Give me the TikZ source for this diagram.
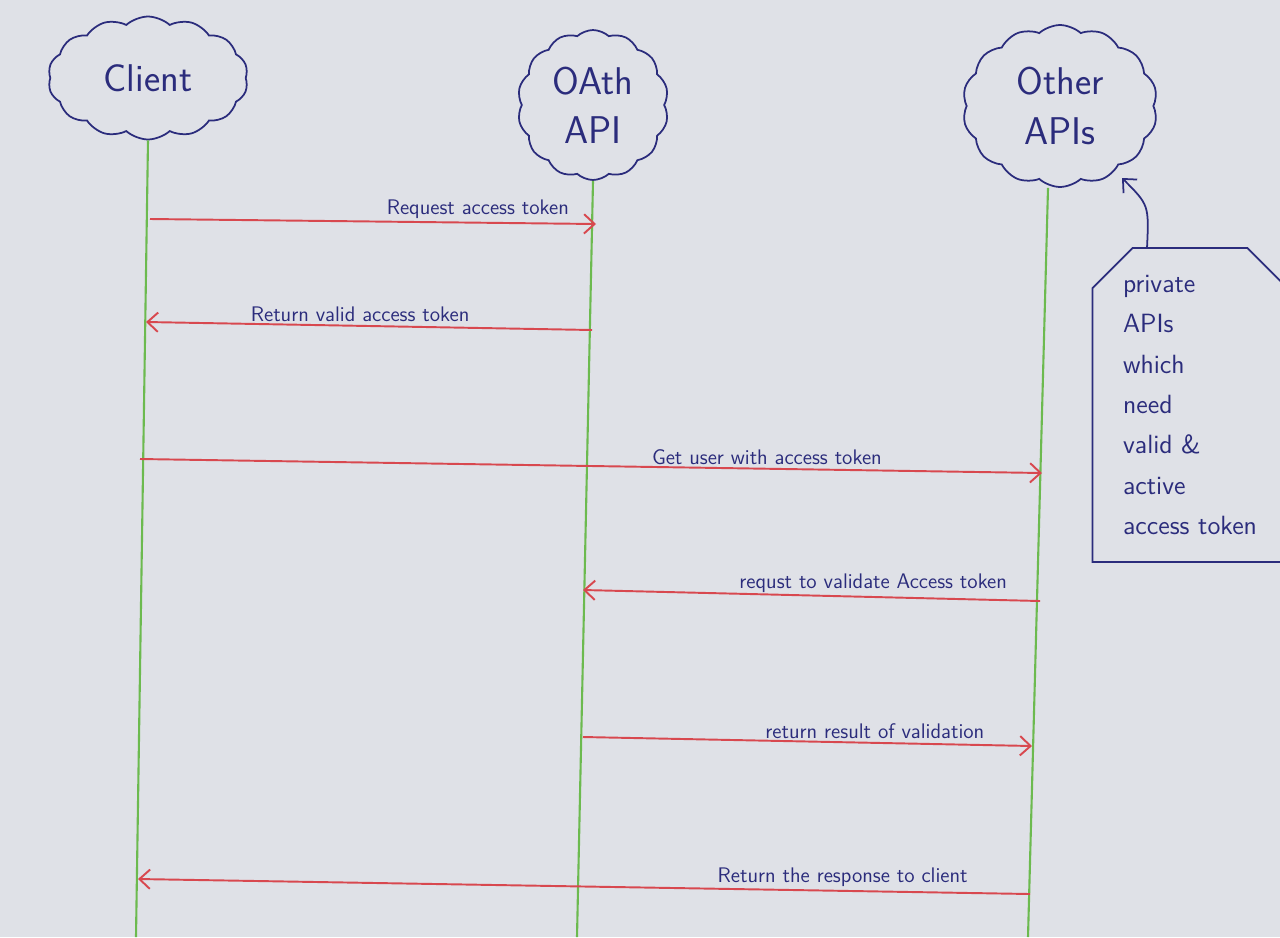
\documentclass[tikz,border=0pt]{standalone}
\usepackage{tikz}
\usetikzlibrary{arrows.meta,shapes.symbols,shapes.misc}
\definecolor{paper}{HTML}{DFE1E7}
\definecolor{ink}{HTML}{2B2C7C}
\definecolor{lifeline}{HTML}{6CBA4F}
\definecolor{msgred}{HTML}{D8484F}

\begin{document}
\begin{tikzpicture}[x=0.02cm,y=-0.02cm,>={Straight Barb[length=6pt,width=11pt]}]
    \tikzstyle{actor}=[cloud, cloud puffs=14, cloud puff arc=85, cloud ignores aspect, draw=ink, line width=1pt, text=ink, inner sep=0pt, align=center, font=\sffamily\fontsize{22}{28}\selectfont]
    \tikzstyle{life}=[draw=lifeline, line width=1.2pt]
    \tikzstyle{message}=[->, draw=msgred, line width=1.1pt]
    \tikzstyle{msglabel}=[text=ink, inner sep=2pt, font=\sffamily\fontsize{12}{14}\selectfont]
    \tikzstyle{annot}=[chamfered rectangle, chamfered rectangle corners={north west,north east}, chamfered rectangle sep=0.4cm, draw=ink, line width=1pt, text=ink, align=left, font=\sffamily\fontsize{15}{23}\selectfont]

    % Paper
    \fill[paper] (0,0) rectangle (1280,937);
    \useasboundingbox (0,0) rectangle (1280,937);

    % Draw the actors
    \node[actor, minimum width=4cm, minimum height=2.46cm] (client) at (148,78) {Client};
    \node[actor, minimum width=3.02cm, minimum height=3cm] (oath) at (593,105) {OAth\\API};
    \node[actor, minimum width=3.9cm, minimum height=3.24cm] (other) at (1060,106) {Other\\APIs};

    % Draw the lifelines
    \coordinate (client-top) at (client.south);
    \coordinate (oath-top) at (oath.south);
    \coordinate (other-top) at ([xshift=-0.24cm]other.south);
    \coordinate (client-end) at (136,937);
    \coordinate (oath-end) at (577,937);
    \coordinate (other-end) at (1028,937);
    \foreach \name in {client,oath,other}
        \draw[life] (\name-top) -- (\name-end);

    % Message end points on the lifelines
    \coordinate (C-1) at (150,219);  \coordinate (O-1) at (596,224);
    \coordinate (O-2) at (592,330);  \coordinate (C-2) at (146,322);
    \coordinate (C-3) at (140,459);  \coordinate (A-3) at (1042,473);
    \coordinate (A-4) at (1040,601); \coordinate (O-4) at (583,590);
    \coordinate (O-5) at (583,737);  \coordinate (A-5) at (1032,746);
    \coordinate (A-6) at (1030,894); \coordinate (C-6) at (138,879);

    % Draw the messages
    \foreach \src/\dst/\where/\txt in {C-1/O-1/0.735/Request access token,
            O-2/C-2/0.52/Return valid access token,
            C-3/A-3/0.695/Get user with access token,
            A-4/O-4/0.365/requst to validate Access token,
            O-5/A-5/0.65/return result of validation,
            A-6/C-6/0.21/Return the response to client}
        \draw[message] (\src) -- node[msglabel, pos=\where, above] {\txt} (\dst);

    % Annotate the other APIs
    \node[annot, minimum width=3.9cm, minimum height=6.28cm] (note) at (1190,405)
        {private\\APIs\\which\\need\\valid \&\\active\\access token};
    \coordinate (note-top) at (1147,248);
    \coordinate (other-tip) at (1122,178);
    \draw[->, draw=ink, line width=1pt] (note-top) .. controls (1149,205) .. (other-tip);

\end{tikzpicture}
\end{document}
